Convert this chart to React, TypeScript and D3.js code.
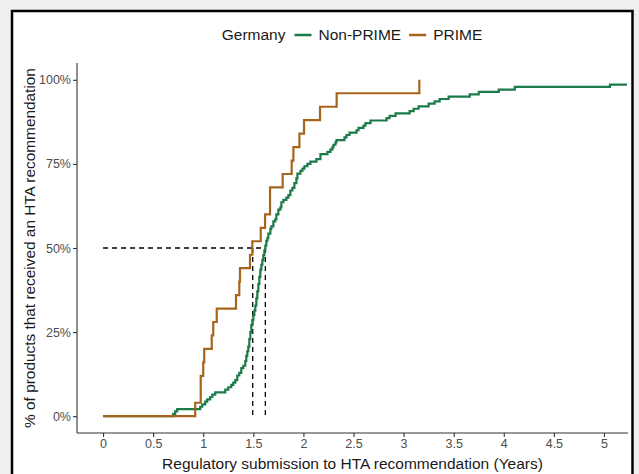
import React, { useRef, useEffect } from "react";
import * as d3 from "d3";

// Kaplan-Meier style cumulative curves (years, % with HTA recommendation)
const primeTimes = [0.92, 0.975, 1.0, 1.01, 1.085, 1.1, 1.135, 1.327, 1.36, 1.367, 1.467, 1.49, 1.574, 1.617, 1.667, 1.793, 1.883, 1.9, 1.96, 2.006, 2.166, 2.332, 3.157];
const primePct = [4, 12, 16, 20, 24, 28, 32, 36, 40, 44, 48, 52, 56, 60, 68, 72, 76, 80, 84, 88, 92, 96, 100];
const primeEnd = 3.157;

const nonPrimeTimes = [
  0.7, 0.72, 0.74, 0.97, 0.99, 1.02, 1.04, 1.07, 1.09, 1.12, 1.22, 1.25, 1.28, 1.3, 1.32, 1.34, 1.36, 1.38,
  1.4, 1.42, 1.43, 1.44, 1.45, 1.46, 1.47, 1.48, 1.49, 1.5, 1.51, 1.52, 1.53, 1.54, 1.55, 1.56, 1.57, 1.58,
  1.59, 1.6, 1.61, 1.62, 1.63, 1.64, 1.65, 1.67, 1.68, 1.7, 1.72, 1.73, 1.75, 1.77, 1.78, 1.8, 1.83, 1.85,
  1.87, 1.89, 1.91, 1.93, 1.94, 1.97, 1.99, 2.01, 2.04, 2.07, 2.13, 2.17, 2.24, 2.27, 2.29, 2.3, 2.32, 2.33,
  2.41, 2.43, 2.46, 2.53, 2.55, 2.6, 2.62, 2.67, 2.83, 2.86, 2.92, 3.06, 3.1, 3.15, 3.25, 3.31, 3.36, 3.45,
  3.66, 3.75, 3.95, 4.11, 5.06,
];
const nonPrimePct = [
  0.7, 1.4, 2.1, 2.8, 3.5, 4.3, 5.0, 5.7, 6.4, 7.1, 7.9, 8.6, 9.3, 10.0, 10.7, 12.1, 12.9, 14.3,
  15.0, 16.4, 17.9, 19.3, 20.7, 22.9, 25.0, 27.1, 28.6, 30.0, 31.4, 32.9, 35.0, 37.1, 39.3, 41.4, 43.6, 45.0,
  46.4, 47.9, 49.3, 50.7, 52.1, 52.9, 54.3, 55.7, 56.4, 57.9, 58.6, 60.0, 61.4, 62.1, 63.6, 64.3, 65.0, 65.7,
  67.1, 67.9, 69.3, 70.7, 72.1, 72.9, 73.6, 74.3, 75.0, 75.7, 76.4, 77.9, 78.6, 79.3, 80.0, 80.7, 81.4, 82.1,
  82.9, 83.6, 84.3, 85.0, 85.7, 86.4, 87.1, 87.9, 88.6, 89.3, 90.0, 90.7, 91.4, 92.1, 92.9, 93.6, 94.3, 95.0,
  95.7, 96.4, 97.1, 97.9, 98.6,
];
const nonPrimeEnd = 5.23;

// median times (PRIME, Non-PRIME)
const medians = [1.494, 1.62];

const xTicks = [0, 0.5, 1, 1.5, 2, 2.5, 3, 3.5, 4, 4.5, 5];
const yTicks = [0, 25, 50, 75, 100];

const seriesNames = ["Non-PRIME", "PRIME"];
const seriesColors = ["#1b7a48", "#a6651c"];

const FONT = "'Liberation Sans', Arial, Helvetica, sans-serif";

const App = () => {
  const chartRef = useRef(null);

  useEffect(() => {
    const container = d3.select(chartRef.current);
    container.selectAll("svg").remove();

    const width = 639;
    const height = 474;
    const svg = container
      .append("svg")
      .attr("width", width)
      .attr("height", height)
      .style("position", "absolute")
      .style("left", "0px")
      .style("top", "0px")
      .style("background", "#f0f0f0");

    // frame
    svg
      .append("rect")
      .attr("x", 12)
      .attr("y", 11)
      .attr("width", 620.5)
      .attr("height", 490)
      .attr("fill", "#ffffff")
      .attr("stroke", "#000")
      .attr("stroke-width", 2.5);

    const panel = { left: 77, right: 628, top: 63, bottom: 433 };

    const xScale = d3.scaleLinear().domain([-0.26, 5.24]).range([panel.left, panel.right]);
    const yScale = d3.scaleLinear().domain([-5, 105]).range([panel.bottom, panel.top]);

    // axes
    const xAxis = d3
      .axisBottom(xScale)
      .tickValues(xTicks)
      .tickSize(4)
      .tickPadding(2)
      .tickFormat((d: any) => `${d}`);
    const yAxis = d3
      .axisLeft(yScale)
      .tickValues(yTicks)
      .tickSize(4)
      .tickPadding(2)
      .tickFormat((d: any) => `${d}%`);

    const gx = svg.append("g").attr("transform", `translate(0, ${panel.bottom})`).call(xAxis);
    const gy = svg.append("g").attr("transform", `translate(${panel.left}, 0)`).call(yAxis);

    [gx, gy].forEach((g) => {
      g.select(".domain").attr("stroke", "#333").attr("stroke-width", 1.1);
      g.selectAll(".tick line").attr("stroke", "#333").attr("stroke-width", 1.1);
      g.selectAll(".tick text")
        .attr("fill", "#4d4d4d")
        .style("font-family", FONT)
        .style("font-size", "12.5px");
    });
    gx.select(".domain").attr("d", `M${panel.left},0H${panel.right}`);
    gy.select(".domain").attr("d", `M0,${panel.top}V${panel.bottom}`);

    // median reference lines
    const dash = "5,4";
    svg
      .append("line")
      .attr("x1", xScale(0))
      .attr("x2", xScale(d3.max(medians) as number))
      .attr("y1", yScale(50))
      .attr("y2", yScale(50))
      .attr("stroke", "#000")
      .attr("stroke-width", 1.3)
      .attr("stroke-dasharray", dash);
    svg
      .selectAll(".median")
      .data(medians)
      .enter()
      .append("line")
      .attr("x1", (d) => xScale(d))
      .attr("x2", (d) => xScale(d))
      .attr("y1", yScale(50))
      .attr("y2", yScale(0))
      .attr("stroke", "#000")
      .attr("stroke-width", 1.3)
      .attr("stroke-dasharray", dash);

    // step curves
    const line = d3
      .line<[number, number]>()
      .x((d) => xScale(d[0]))
      .y((d) => yScale(d[1]))
      .curve(d3.curveStepAfter);

    const build = (times: number[], pct: number[], end: number): [number, number][] => {
      const pts: [number, number][] = [[0, 0]];
      times.forEach((t, i) => pts.push([t, pct[i]]));
      pts.push([end, pct[pct.length - 1]]);
      return pts;
    };

    const curves = [
      build(nonPrimeTimes, nonPrimePct, nonPrimeEnd),
      build(primeTimes, primePct, primeEnd),
    ];

    svg
      .selectAll(".curve")
      .data(curves)
      .enter()
      .append("path")
      .attr("class", "curve")
      .attr("d", (d) => line(d))
      .attr("fill", "none")
      .attr("stroke", (_d, i) => seriesColors[i])
      .attr("stroke-width", 2.2)
      .attr("stroke-linejoin", "miter");

    // axis titles
    svg
      .append("text")
      .attr("x", (panel.left + panel.right) / 2)
      .attr("y", 469)
      .attr("text-anchor", "middle")
      .style("font-family", FONT)
      .style("font-size", "15.5px")
      .attr("fill", "#1a1a1a")
      .text("Regulatory submission to HTA recommendation (Years)");

    svg
      .append("text")
      .attr("transform", `translate(35, ${(panel.top + panel.bottom) / 2}) rotate(-90)`)
      .attr("text-anchor", "middle")
      .style("font-family", FONT)
      .style("font-size", "15.4px")
      .attr("fill", "#1a1a1a")
      .text("% of products that received an HTA recommendation");

    // legend
    const legend = svg.append("g");
    const ly = 40;
    let cx = 0;
    const title = legend
      .append("text")
      .attr("x", cx)
      .attr("y", ly)
      .style("font-family", FONT)
      .style("font-size", "15.5px")
      .attr("fill", "#1a1a1a")
      .text("Germany");
    cx += (title.node() as SVGTextElement).getComputedTextLength() + 9;
    seriesNames.forEach((name, i) => {
      legend
        .append("line")
        .attr("x1", cx)
        .attr("x2", cx + 17)
        .attr("y1", ly - 5)
        .attr("y2", ly - 5)
        .attr("stroke", seriesColors[i])
        .attr("stroke-width", 2.5);
      cx += 24;
      const t = legend
        .append("text")
        .attr("x", cx)
        .attr("y", ly)
        .style("font-family", FONT)
        .style("font-size", "15.5px")
        .attr("fill", "#1a1a1a")
        .text(name);
      cx += (t.node() as SVGTextElement).getComputedTextLength() + 8;
    });
    const legendWidth = cx - 8;
    legend.attr("transform", `translate(${352 - legendWidth / 2}, 0)`);
  }, []);

  return <div ref={chartRef} />;
};

export default App;
